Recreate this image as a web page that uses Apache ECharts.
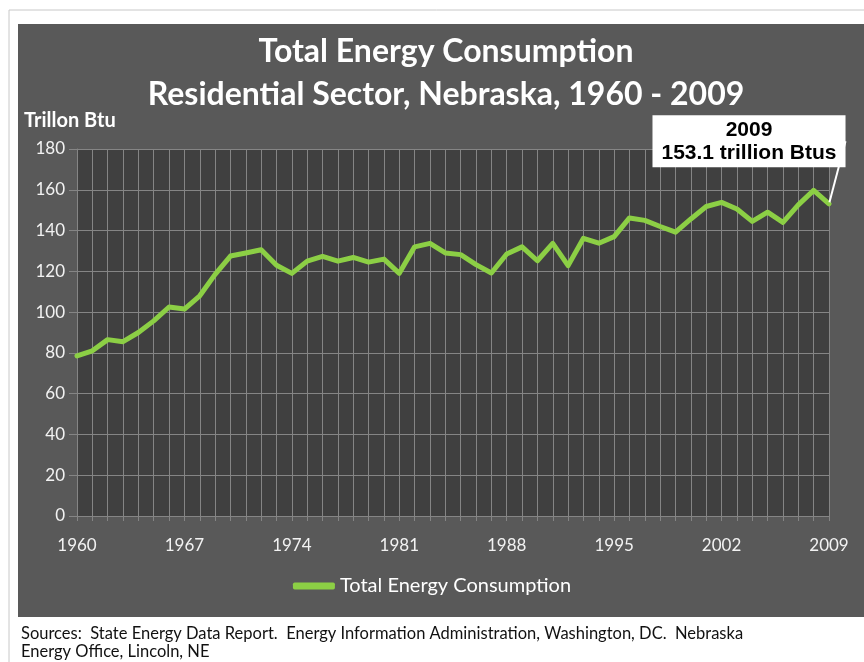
<!DOCTYPE html>
<html>
<head>
<meta charset="utf-8">
<script src="https://cdn.jsdelivr.net/npm/echarts@6/dist/echarts.min.js"></script>
<style>
  html, body { margin: 0; padding: 0; background: #fff; }
  #main { width: 864px; height: 662px; }
</style>
</head>
<body>
<div id="main"></div>
<script>
const years = [];
for (let y = 1960; y <= 2009; y++) years.push(String(y));

// trillion Btu
const consumption = [
  78.5, 81, 86.5, 85.5, 90, 95.7, 102.5, 101.5, 108, 118.5,
  127.5, 129, 130.6, 123, 119, 125, 127.3, 125, 126.8, 124.5,
  126, 119, 132, 133.7, 129, 128.2, 123.3, 119.2, 128.5, 132,
  125.2, 133.7, 122.8, 136.2, 133.8, 137, 146.2, 145, 142, 139.2,
  145.7, 151.8, 153.8, 150.6, 144.5, 149, 144, 152.6, 159.7, 153.1
];

const yTicks = [0, 20, 40, 60, 80, 100, 120, 140, 160, 180];
const titleLines = ['Total Energy Consumption', 'Residential Sector, Nebraska, 1960 - 2009'];
const sourceLines = [
  'Sources:  State Energy Data Report.  Energy Information Administration, Washington, DC.  Nebraska',
  'Energy Office, Lincoln, NE'
];

const FONT = 'Lato, "Open Sans", sans-serif';
const GREEN = '#8ccf45';
const lastIdx = consumption.length - 1;

const chart = echarts.init(document.getElementById('main'));

const option = {
  backgroundColor: '#ffffff',
  animation: false,
  graphic: [
    { type: 'line', shape: { x1: 9, y1: 10, x2: 864, y2: 10 }, style: { stroke: '#c8c8c8', lineWidth: 1 }, z: -20 },
    { type: 'line', shape: { x1: 9, y1: 10, x2: 9, y2: 662 }, style: { stroke: '#c8c8c8', lineWidth: 1 }, z: -20 },
    { type: 'rect', shape: { x: 18, y: 24, width: 846, height: 593 }, style: { fill: '#595959' }, z: -20 },
    {
      type: 'text', left: 24, top: 111,
      style: { text: 'Trillon Btu', fill: '#ffffff', font: 'bold 20px ' + FONT }
    },
    {
      type: 'text', left: 21, top: 625,
      style: { text: sourceLines.join('\n'), fill: '#111111', font: '16.5px ' + FONT, lineHeight: 18 }
    }
  ],
  title: {
    text: titleLines.join('\n'),
    left: 441,
    top: 25,
    textAlign: 'center',
    textStyle: { color: '#ffffff', fontFamily: FONT, fontWeight: 'bold', fontSize: 32, lineHeight: 43 }
  },
  legend: {
    bottom: 61,
    left: 'center',
    icon: 'roundRect',
    itemWidth: 42,
    itemHeight: 7,
    textStyle: { color: '#ffffff', fontFamily: FONT, fontSize: 20 },
    data: ['Total Energy Consumption']
  },
  grid: {
    left: 77, right: 35, top: 149, bottom: 146,
    show: true, backgroundColor: '#404040', borderWidth: 0
  },
  xAxis: {
    type: 'category',
    data: years,
    boundaryGap: false,
    axisLine: { lineStyle: { color: '#858585', width: 1 } },
    axisTick: { show: true, interval: 0, length: 5, lineStyle: { color: '#858585' } },
    splitLine: { show: true, interval: 0, lineStyle: { color: '#858585', width: 1 } },
    axisLabel: { interval: 6, color: '#f2f2f2', fontFamily: FONT, fontSize: 17, margin: 21 }
  },
  yAxis: {
    type: 'value',
    min: yTicks[0],
    max: yTicks[yTicks.length - 1],
    interval: 20,
    axisLine: { show: true, lineStyle: { color: '#858585', width: 1 } },
    axisTick: { show: true, length: 8, lineStyle: { color: '#858585' } },
    splitLine: { show: true, lineStyle: { color: '#858585', width: 1 } },
    axisLabel: { color: '#f2f2f2', fontFamily: FONT, fontSize: 17, margin: 12 }
  },
  series: [
    {
      name: 'Total Energy Consumption',
      type: 'line',
      symbol: 'none',
      showAllSymbol: true,
      data: consumption.map((v, i) => i === lastIdx ? {
        value: v,
        symbol: 'circle',
        symbolSize: 3,
        label: {
          show: true,
          position: 'top',
          formatter: years[i] + '\n' + v.toFixed(1) + ' trillion Btus',
          backgroundColor: '#ffffff',
          color: '#000000',
          fontFamily: '"Liberation Sans", Arial, sans-serif',
          fontWeight: 'bold',
          fontSize: 21,
          lineHeight: 23,
          padding: [3, 9, 3, 9],
          align: 'center'
        },
        labelLine: { show: true, lineStyle: { color: '#ffffff', width: 2 } }
      } : v),
      lineStyle: { color: GREEN, width: 5, join: 'round', cap: 'round' },
      itemStyle: { color: GREEN },
      labelLayout: function (params) {
        if (params.dataIndex !== lastIdx) return {};
        return { dx: -80, dy: -30 };
      },
      z: 5
    }
  ]
};

chart.setOption(option);
</script>
</body>
</html>
